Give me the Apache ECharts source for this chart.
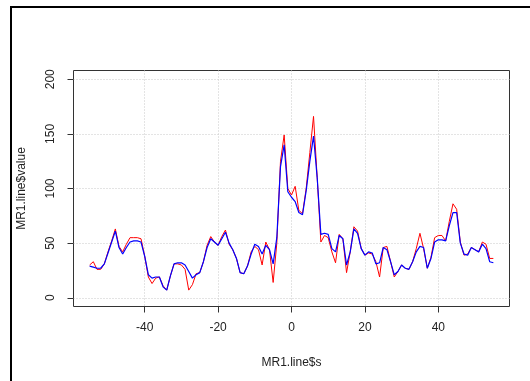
<!DOCTYPE html>
<html>
<head>
<meta charset="utf-8">
<script src="https://cdn.jsdelivr.net/npm/echarts@6/dist/echarts.min.js"></script>
<style>
body { margin: 0; background: #fff; }
#frame { position: absolute; left: 10px; top: 6px; width: 520px; height: 375px; border-top: 2px solid #000; border-left: 2px solid #000; }
#main { position: absolute; left: 0; top: 0; width: 530px; height: 381px; }
</style>
</head>
<body>
<div id="frame"></div>
<div id="main"></div>
<script>
// MR1.line$s
var sValues = [-55, -54, -53, -52, -51, -50, -49, -48, -47, -46, -45, -44, -43, -42, -41, -40,
    -39, -38, -37, -36, -35, -34, -33, -32, -31, -30, -29, -28, -27, -26, -25, -24, -23, -22, -21, -20,
    -19, -18, -17, -16, -15, -14, -13, -12, -11, -10, -9, -8, -7, -6, -5, -4, -3, -2, -1, 0,
    1, 2, 3, 4, 5, 6, 7, 8, 9, 10, 11, 12, 13, 14, 15, 16, 17, 18, 19, 20,
    21, 22, 23, 24, 25, 26, 27, 28, 29, 30, 31, 32, 33, 34, 35, 36, 37, 38, 39, 40,
    41, 42, 43, 44, 45, 46, 47, 48, 49, 50, 51, 52, 53, 54, 55];
// red line
var redValues = [30, 33, 26, 26, 31, 42, 52, 63, 47, 42, 49, 55, 55, 55, 54, 38,
    19, 13, 18, 19, 11, 7, 20, 31, 31, 30, 26, 7, 12, 22, 23, 33, 48, 56, 51, 48,
    56, 62, 49, 44, 36, 23, 22, 29, 42, 47, 44, 30, 51, 44, 14, 50, 125, 149, 100, 94,
    102, 80, 77, 100, 133, 166, 110, 51, 57, 55, 42, 32, 58, 54, 23, 42, 65, 61, 45, 39,
    41, 40, 33, 19, 46, 47, 33, 19, 24, 30, 27, 26, 33, 45, 59, 45, 27, 37, 55, 57,
    57, 52, 70, 86, 81, 51, 39, 40, 46, 44, 42, 51, 49, 36, 36];
// blue line
var blueValues = [29, 28, 27, 27, 31, 41, 51, 61, 46, 40, 46, 51, 52, 52, 51, 38,
    21, 18, 19, 19, 10, 7, 20, 31, 32, 32, 30, 24, 18, 21, 23, 33, 46, 54, 51, 48,
    54, 60, 50, 44, 36, 23, 22, 29, 40, 49, 47, 40, 48, 44, 31, 55, 120, 140, 97, 92,
    88, 78, 76, 98, 125, 148, 110, 58, 59, 58, 45, 42, 57, 54, 30, 42, 63, 59, 45, 39,
    42, 41, 31, 32, 46, 44, 33, 21, 24, 30, 27, 26, 33, 42, 47, 46, 27, 36, 51, 53,
    53, 52, 66, 78, 78, 50, 40, 39, 46, 44, 42, 49, 45, 33, 32];
var xTicks = [-40, -20, 0, 20, 40];
var yTicks = [0, 50, 100, 150, 200];

function pairs(vals) {
    var out = [];
    for (var i = 0; i < sValues.length; i++) {
        out.push([sValues[i], vals[i]]);
    }
    return out;
}

var chart = echarts.init(document.getElementById('main'));
var font = 'Liberation Sans, Arial, sans-serif';
var gridLine = { color: '#c8c8c8', type: [1, 2], width: 1 };
var option = {
    animation: false,
    grid: {
        left: 73.5, right: 20.5, top: 70.5, bottom: 74.5,
        show: true, borderColor: '#333', borderWidth: 1
    },
    xAxis: {
        type: 'value',
        min: -59.4,
        max: 59.4,
        name: 'MR1.line$s',
        nameLocation: 'middle',
        nameGap: 50,
        nameTextStyle: { fontFamily: font, fontSize: 12, color: '#222' },
        axisLine: { show: false, onZero: false },
        axisTick: { show: true, length: 6, inside: false, customValues: xTicks, lineStyle: { color: '#333' } },
        axisLabel: { customValues: xTicks, margin: 15, fontFamily: font, fontSize: 12, color: '#222' },
        splitLine: { show: true, lineStyle: gridLine }
    },
    yAxis: {
        type: 'value',
        min: -8,
        max: 208,
        name: 'MR1.line$value',
        nameLocation: 'middle',
        nameGap: 46,
        nameTextStyle: { fontFamily: font, fontSize: 12, color: '#222' },
        axisLine: { show: false, onZero: false },
        axisTick: { show: true, length: 6, customValues: yTicks, lineStyle: { color: '#333' } },
        axisLabel: { customValues: yTicks, rotate: 90, margin: 17, align: 'center', verticalAlign: 'bottom', fontFamily: font, fontSize: 12, color: '#222' },
        splitLine: { show: true, lineStyle: gridLine }
    },
    series: [
        {
            name: 'red', type: 'line', data: pairs(redValues), showSymbol: false,
            lineStyle: { color: '#ff0000', width: 1 }, z: 2
        },
        {
            name: 'blue', type: 'line', data: pairs(blueValues), showSymbol: false,
            lineStyle: { color: '#0000ff', width: 1.2 }, z: 3
        }
    ]
};
chart.setOption(option, true);
</script>
</body>
</html>
